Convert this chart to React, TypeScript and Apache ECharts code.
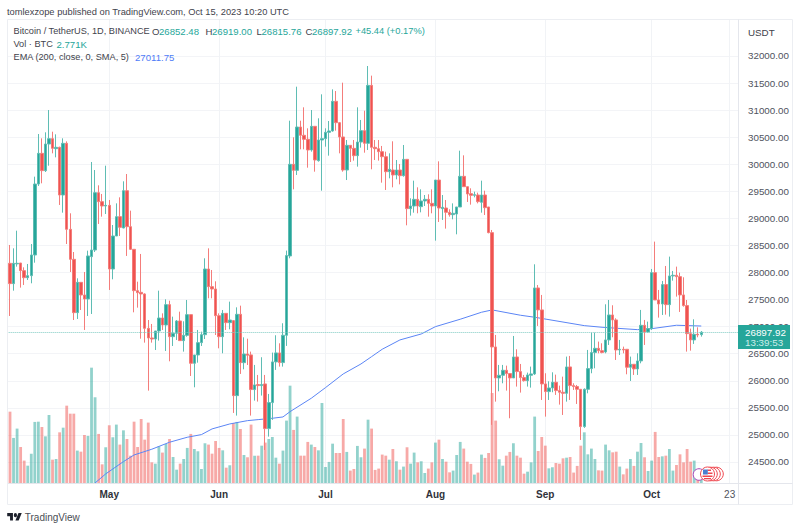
import React, { useEffect, useRef } from "react";
import * as echarts from "echarts";

const FONT = "'Liberation Sans', Arial, sans-serif";
const UP = "#26a69a";
const DOWN = "#ef5350";

const firstDay = "2023-04-02";
const paddingDays = 10;

// [open, close, low, high] per day, from 2 Apr 2023 to 15 Oct 2023
const candles: number[][] = [
  [28447,28170,28170,28447],
  [28170,27795,27197,28509],[27795,28170,27665,28447],[28160,28170,28109,28773],[28176,28035,27721,28176],[28035,27905,27770,28096],
  [27905,27942,27862,28158],[27942,28324,27801,28527],[28324,29635,28182,29771],[29635,30202,29599,30559],[30202,29882,29648,30479],
  [29882,30374,29857,30590],[30374,30473,29974,31002],[30473,30294,30202,30602],[30288,30313,30128,30553],[30313,29432,29248,30325],
  [29432,30387,29106,30479],[30387,28798,28527,30423],[28798,28244,28010,29094],[28244,27259,27123,28379],[27259,27819,27142,27893],
  [27819,27585,27308,27819],[27585,27511,26939,28010],[27511,28306,27197,28404],[28293,28416,27234,30042],[28416,29475,28379,29894],
  [29475,29309,28897,29611],[29309,29229,29032,29451],[29229,29241,29081,29974],[29241,28065,27678,29340],[28065,28675,27875,28878],
  [28675,29032,28675,29278],[29032,28835,28675,29389],[28823,29512,28817,29685],[29512,28847,28306,29820],[28847,28429,28416,29143],
  [28429,27665,27265,28429],[27665,27628,27351,27831],[27634,27604,26778,28343],[27604,26969,26705,27616],[26969,26791,25818,27123],
  [26791,26772,26705,27050],[26772,26920,26569,26920],[26920,27160,26742,27665],[27160,27031,26939,27246],[27031,27407,26551,27505],
  [27407,26815,26360,27480],[26815,26877,26643,27185],[26877,27105,26754,27123],[27105,26742,26742,27277],[26742,26840,26539,27099],
  [26840,27222,26815,27493],[27222,26323,26089,27222],[26323,26477,25880,26477],[26477,26705,26335,26939],[26705,26852,26643,26908],
  [26852,28065,26772,28263],[28065,27739,27524,28447],[27739,27696,27524,28047],[27696,27203,26846,27838],[27203,26815,26600,27246],
  [26815,27246,26508,27308],[27246,27074,26939,27246],[27074,27123,26951,27462],[27111,25726,25406,27123],[25726,27228,25357,27357],
  [27228,26335,26127,27388],[26335,26495,26212,26803],[26495,26471,26292,26778],[26478,25838,25357,26539],[25838,25924,25634,26293],
  [25930,25911,25616,26108],[25911,25930,25727,26435],[25942,25117,24723,26108],[25117,25597,24969,25757],[25597,26349,25277,26521],
  [26349,26515,26201,26841],[26515,26336,26262,26693],[26336,26841,26262,27063],[26841,28313,26644,28405],[28306,29999,28263,30805],
  [29999,29888,29537,30498],[29888,30688,29802,31433],[30688,30535,30276,30805],[30535,30461,30276,31052],[30461,30264,29937,30664],
  [30264,30701,30233,31002],[30701,30079,29863,30701],[30067,30448,30048,30849],[30448,30473,29512,31292],[30473,30590,30325,30664],
  [30590,30615,30159,30799],[30615,31163,30602,31384],[31163,30768,30621,31353],[30768,30504,30202,30781],[30504,29894,29863,31507],
  [29894,30350,29709,30448],[30350,30294,30042,30350],[30294,30159,30067,30448],[30159,30411,29956,31052],[30411,30621,30307,30818],
  [30621,30387,30214,30990],[30387,31458,30264,31815],[31458,30313,29907,31637],[30313,30288,30079,30448],[30288,30233,30067,30448],
  [30233,30140,29660,30338],[30140,29863,29525,30233],[29863,29907,29740,30202],[29894,29802,29574,30424],[29802,29894,29722,30079],
  [29894,29789,29629,30005],[29789,30091,29771,30356],[30091,29180,28872,30091],[29180,29229,29051,29371],[29229,29352,29106,29697],
  [29352,29229,29094,29574],[29217,29322,29112,29537],[29322,29352,29229,29432],[29352,29278,29032,29445],[29278,29229,29094,29537],
  [29229,29709,28589,29709],[29709,29192,28934,30054],[29180,29205,28971,29432],[29192,29112,28811,29340],[29112,29069,29032,29168],
  [29069,29094,28983,29278],[29081,29211,28706,29211],[29211,29777,29211,30251],[29777,29586,29586,30165],[29586,29451,29303,29586],
  [29457,29426,29254,29556],[29426,29439,29389,29494],[29432,29309,29278,29476],[29297,29432,29106,29697],[29432,29198,29063,29512],
  [29211,28737,28724,29211],[28737,26625,25186,28786],[26625,26053,25615,26847],[26053,26102,25806,26293],[26102,26194,25954,26293],
  [26194,26133,25819,26280],[26133,26053,25308,26133],[26053,26440,26053,26828],[26440,26170,25893,26582],[26170,26059,25782,26311],
  [26059,26003,25985,26108],[26003,26108,25893,26151],[26102,26127,25874,26262],[26127,27715,26108,28152],[27715,27309,27013,27770],
  [27309,25942,25646,27586],[25942,25800,25338,26139],[25800,25868,25646,25991],[25868,25973,25788,26157],[25973,25819,25739,26114],
  [25819,25788,25560,25911],[25788,25769,25369,26077],[25769,26256,25615,26447],[26256,25911,25646,26459],[25911,25893,25831,25954],
  [25893,25843,25572,25923],[25843,25154,24907,25843],[25154,25843,25130,25860],[25843,26225,25769,26570],[26225,26521,26139,26890],
  [26521,26600,26231,26890],[26600,26557,26508,26724],[26557,26521,26508,26693],[26533,26755,26508,27413],[26755,27216,26662,27493],
  [27216,27124,26804,27395],[27124,26570,26385,27155],[26570,26582,26477,26755],[26582,26570,26508,26631],[26582,26250,26120,26582],
  [26250,26305,25997,26447],[26305,26219,26108,26305],[26219,26367,26108,26508],[26367,27025,26323,27309],[27025,26902,26662,27124],
  [26902,26964,26890,27093],[26964,27998,26939,28066],[27998,27493,27493,28571],[27493,27419,27167,27678],[27419,27777,27216,27844],
  [27777,27407,27222,28121],[27407,27937,27186,28294],[27937,27949,27850,28029],[27949,27924,27555,28109],[27924,27586,27272,27998],
  [27586,27389,27370,27912],[27389,26871,26539,27493],[26871,26755,26557,26964],[26755,26859,26681,27136],[26859,26847,26804,26988],
  [26852.48,26897.92,26815.76,26919],
];

// daily volume, thousand BTC
const volumes: number[] = [
  25.5,53.5,33.8,40.8,27,16.8,13,22,45.8,46,42,35,51,17.5,18,38,41.5,58,52,52,24.3,23.5,36,35.3,86.5,64.3,36.8,14,26.8,43.3,34.3,43.8,28.8,
  39.5,33,20.5,46,27,48,32.5,45.3,15.5,14.5,27.5,22.8,29.3,33,19.5,10,14.5,18,26.3,36.8,25.5,23.8,10.5,29.8,28.8,22,31.5,26.3,24.5,11.5,13.3,
  45,45.8,40.5,21,19.3,43.8,20.5,20.5,28,30.3,33,34.5,19,14.5,24.3,46.8,73,39.8,49.8,20.5,20.5,30.8,28.8,27,24.5,60,12,15.8,29.5,22.5,22.5,48,
  23.3,9.3,10.5,27.8,19.3,25.8,47.5,40.8,9.8,10.8,21.3,20.5,17.5,25.5,16.3,10,12.3,26.8,14.5,22.8,15.5,16.3,7.5,10.8,15.5,30.3,32.5,18,16,8,
  9.3,21,30.8,25.8,16,14.3,6.3,7.8,21.3,18.8,22.5,67.5,46.8,17.8,13,20.5,23.3,29.8,20.5,19,7,8.5,15.5,49.8,24,34.5,28,11,11.8,15,14.5,18.5,19,
  19.5,7.8,12.8,28,38,21.5,25.8,18,9.5,9.3,28.8,24.5,23,23.5,12.3,6.5,10.8,18,12.8,23.5,30,19.3,9,16.8,38.3,19.5,20,20.5,25.5,9.3,13.5,21.5,
  15.5,25.5,16,16.8,8,2.771,
];

// EMA 200 read at these days
const emaDates: string[] = [
  "2023-04-27","2023-04-30","2023-05-05","2023-05-08","2023-05-13","2023-05-18","2023-05-23","2023-05-27","2023-05-30","2023-06-04",
  "2023-06-09","2023-06-12","2023-06-16","2023-06-19","2023-06-21","2023-06-27","2023-07-01","2023-07-06","2023-07-11","2023-07-14",
  "2023-07-17","2023-07-22","2023-07-28","2023-08-01","2023-08-08","2023-08-14","2023-08-17","2023-08-25","2023-08-29","2023-09-12",
  "2023-09-17","2023-09-27","2023-10-01","2023-10-08","2023-10-15",
];
const emaValues: number[] = [
  24113,24280,24507,24630,24736,24865,24957,25006,25111,25203,25264,25283,25308,25332,25430,25678,25874,26127,26311,26446,
  26583,26755,26865,27000,27137,27266,27309,27211,27174,27019,26989,26945,26963,27026,27011.75,
];

const priceTicks: number[] = [24500,25000,25500,26000,26500,27000,27500,28000,28500,29000,29500,30000,30500,31000,31500,32000];
const timeTickDates: string[] = ["2023-05-01","2023-06-01","2023-07-01","2023-08-01","2023-09-01","2023-10-01","2023-10-23"];
const timeTickLabels: string[] = ["May","Jun","Jul","Aug","Sep","Oct","23"];

const lastClose = 26897.92;
const axisMin = 24112;
const axisMax = 32665;
const volumeAxisMax = 347.25;

const dates: string[] = [];
{
  const start = Date.parse(firstDay + "T00:00:00Z");
  for (let i = 0; i < candles.length + paddingDays; i++) {
    dates.push(new Date(start + i * 86400000).toISOString().slice(0, 10));
  }
}

const isTick = (_i: number, v: string) => timeTickDates.includes(v);

function txt(x: number, y: number, text: string, fill: string, fontSize = 9.6, extra: any = {}) {
  return {
    type: "text",
    x,
    y,
    z: 120,
    silent: true,
    style: { text, fill, fontSize, fontFamily: FONT, textVerticalAlign: "middle", ...extra },
  };
}

function lineEl(x1: number, y1: number, x2: number, y2: number, stroke: string) {
  return { type: "line", z: 110, silent: true, shape: { x1, y1, x2, y2 }, style: { stroke, lineWidth: 1 } };
}

const TEXT = "#3f434c";

export default function App() {
  const ref = useRef<HTMLDivElement>(null);
  useEffect(() => {
    echarts.graphic.registerShape(
      "tvlogo",
      echarts.graphic.extendPath(
        "M14 6H0v6h7v8h7V6ZM16 10a4 4 0 1 0 8 0a4 4 0 1 0-8 0ZM28 20h-8l7.5-14h8L28 20Z",
        {}
      )
    );
    const chart = echarts.init(ref.current!, undefined, { renderer: "svg", width: 800, height: 530 });
    const candleData = dates.map((_, i) => candles[i] ?? "-");
    const volData = dates.map((_, i) =>
      i < volumes.length
        ? {
            value: volumes[i],
            itemStyle: { color: candles[i][1] >= candles[i][0] ? "rgba(38,166,154,0.5)" : "rgba(239,83,80,0.5)" },
          }
        : "-"
    );
    const emaData = dates.map((d) => {
      const j = emaDates.indexOf(d);
      return j >= 0 ? emaValues[j] : null;
    });
    const rings = [716.5, 713.5, 710.5];
    const option: any = {
      animation: false,
      backgroundColor: "#ffffff",
      grid: { left: 4.68, right: 61.5, top: 20, bottom: 47 },
      xAxis: {
        type: "category",
        data: dates,
        boundaryGap: true,
        axisLine: { show: true, lineStyle: { color: "#e4e6ec", width: 1 } },
        axisTick: { show: false },
        splitLine: { show: true, interval: isTick, alignWithLabel: true, lineStyle: { color: "#f1f3f6", width: 1 } },
        axisLabel: {
          show: true,
          interval: isTick,
          margin: 6,
          hideOverlap: false,
          formatter: (v: string) => {
            const l = timeTickLabels[timeTickDates.indexOf(v)];
            return l === "23" ? `{d|${l}}` : `{m|${l}}`;
          },
          rich: {
            m: { fontFamily: FONT, fontSize: 10, fontWeight: "bold", color: "#2f323a" },
            d: { fontFamily: FONT, fontSize: 10, color: "#50535e" },
          },
        },
      },
      yAxis: [
        {
          type: "value",
          position: "right",
          min: axisMin,
          max: axisMax,
          axisLine: { show: false },
          axisTick: { show: false, customValues: priceTicks },
          splitLine: { show: true, lineStyle: { color: "#f3f4f7", width: 1 } },
          axisLabel: {
            customValues: priceTicks,
            margin: 9.5,
            fontFamily: FONT,
            fontSize: 9.8,
            color: "#50535e",
            formatter: (v: number) => v.toFixed(2),
          },
        },
        {
          type: "value",
          position: "left",
          min: 0,
          max: volumeAxisMax,
          show: false,
          splitLine: { show: false },
        },
      ],
      series: [
        {
          type: "bar",
          yAxisIndex: 1,
          data: volData,
          barWidth: 2.8,
          z: 2,
          silent: true,
        },
        {
          type: "line",
          data: emaData,
          connectNulls: true,
          showSymbol: false,
          symbol: "none",
          lineStyle: { color: "#5b85f5", width: 1 },
          z: 3,
          silent: true,
        },
        {
          type: "candlestick",
          data: candleData,
          barWidth: 3,
          z: 4,
          silent: true,
          itemStyle: {
            color: UP,
            color0: DOWN,
            borderColor: "#5fbdb4",
            borderColor0: "#f47d7b",
            borderWidth: 1,
          },
          markLine: {
            silent: true,
            symbol: "none",
            label: { show: false },
            lineStyle: { color: "#7fcbc3", type: "dotted", width: 1 },
            data: [{ yAxis: lastClose }],
          },
        },
      ],
      graphic: {
        elements: [
          { type: "rect", z: 100, silent: true, shape: { x: 0, y: 0, width: 7, height: 530 }, style: { fill: "#fff" } },
          { type: "rect", z: 100, silent: true, shape: { x: 0, y: 0, width: 800, height: 19 }, style: { fill: "#fff" } },
          lineEl(7.5, 19.5, 792.5, 19.5, "#eceef2"),
          lineEl(7.5, 19.5, 7.5, 504.5, "#eceef2"),
          lineEl(792.5, 19.5, 792.5, 504.5, "#eceef2"),
          lineEl(7.5, 504.5, 792.5, 504.5, "#eceef2"),
          lineEl(738.5, 19.5, 738.5, 504.5, "#e4e6ec"),
          lineEl(738.5, 483.5, 792.5, 483.5, "#e4e6ec"),
          // price tag
          { type: "rect", z: 115, silent: true, shape: { x: 738, y: 325, width: 52, height: 24 }, style: { fill: UP } },
          txt(745, 332, "26897.92", "#ffffff", 9.8),
          txt(745, 342, "13:39:53", "#cfeeea", 9.8),
          txt(748, 32, "USDT", TEXT, 9.8),
          // header
          txt(7, 11.5, "tomlexzope published on TradingView.com, Oct 15, 2023 10:20 UTC", TEXT, 9.3),
          txt(13.5, 31, "Bitcoin / TetherUS, 1D, BINANCE", TEXT, 9.2),
          txt(152, 31, "O", TEXT),
          txt(159, 31, "26852.48", UP),
          txt(205.5, 31, "H", TEXT),
          txt(212, 31, "26919.00", UP),
          txt(256.5, 31, "L", TEXT),
          txt(261.5, 31, "26815.76", UP),
          txt(305.5, 31, "C", TEXT),
          txt(312, 31, "26897.92", UP),
          txt(355.5, 31, "+45.44 (+0.17%)", UP, 9.3),
          txt(13.5, 44, "Vol · BTC", TEXT, 9.2),
          txt(56.5, 44, "2.771K", UP),
          txt(13.5, 57, "EMA (200, close, 0, SMA, 5)", TEXT, 9.2),
          txt(135, 57, "27011.75", "#4f7cf7"),
          // event icons
          { type: "circle", z: 112, silent: true, shape: { cx: 699, cy: 474.5, r: 5.8 }, style: { fill: "#fff", stroke: "#ab47bc", lineWidth: 1 } },
          ...rings.map((cx) => ({
            type: "circle",
            z: 112,
            silent: true,
            shape: { cx, cy: 474, r: 6.8 },
            style: { fill: "#fff", stroke: "#f0474f", lineWidth: 1 },
          })),
          { type: "circle", z: 113, silent: true, shape: { cx: 707.5, cy: 474, r: 7 }, style: { fill: "#fff", stroke: "#f0474f", lineWidth: 1 } },
          { type: "rect", z: 114, silent: true, shape: { x: 707.5, y: 469.5, width: 3.5, height: 1.5 }, style: { fill: "#f0474f" } },
          { type: "rect", z: 114, silent: true, shape: { x: 707.5, y: 472.5, width: 5, height: 1.5 }, style: { fill: "#f0474f" } },
          { type: "rect", z: 114, silent: true, shape: { x: 702.5, y: 475.5, width: 10, height: 1.5 }, style: { fill: "#f0474f" } },
          { type: "rect", z: 114, silent: true, shape: { x: 704, y: 478, width: 7, height: 1.3 }, style: { fill: "#f0474f" } },
          { type: "rect", z: 114, silent: true, shape: { x: 703, y: 469.5, width: 4.8, height: 5 }, style: { fill: "#4a7fd0" } },
          // TradingView logo
          { type: "tvlogo", z: 120, silent: true, x: 7.2, y: 510, scaleX: 0.41, scaleY: 0.52, style: { fill: "#1e222d" } },
          txt(24.8, 517.5, "TradingView", "#4a4d55", 10),
        ],
      },
    };
    chart.setOption(option);
    return () => chart.dispose();
  }, []);
  return <div ref={ref} style={{ position: "absolute", left: 0, top: 0, width: 800, height: 530 }} />;
}
